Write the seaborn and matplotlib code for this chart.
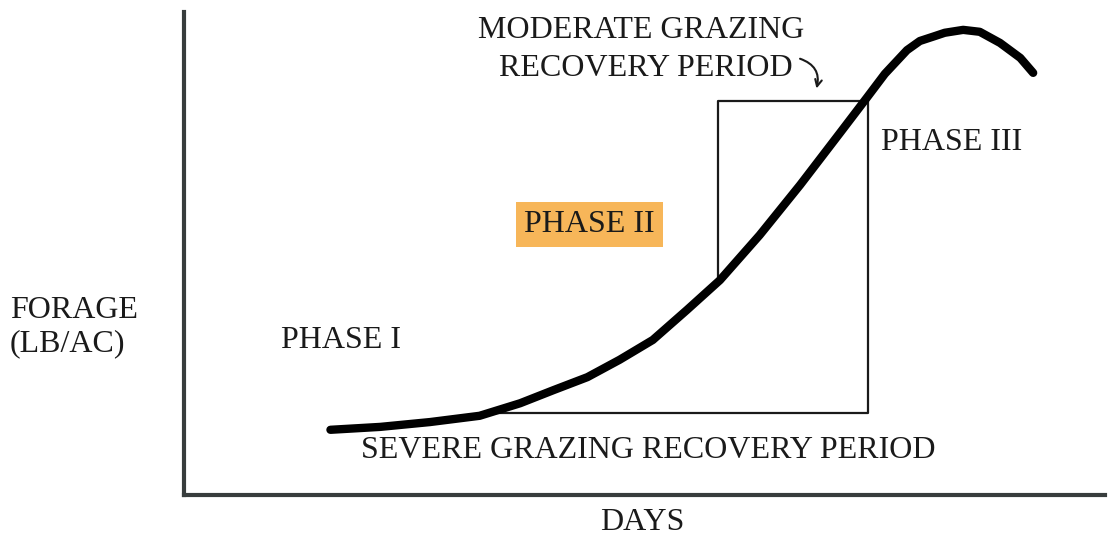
import matplotlib
matplotlib.use("Agg")
import matplotlib.pyplot as plt
import seaborn as sns
import pandas as pd

# forage growth curve (days and forage on a 0-100 relative scale)
curve_days = [15.9, 21.3, 26.7, 32.1, 36.5, 40.1, 43.8, 47.3, 50.9, 54.6,
              58.2, 62.5, 66.9, 71.2, 74.2, 76.1, 78.5, 79.9, 81.5, 82.6,
              84.6, 86.4, 88.6, 90.8, 92.2]
curve_forage = [13.5, 14.1, 15.1, 16.4, 19.0, 21.7, 24.4, 28.0, 32.1, 38.3,
                44.5, 53.8, 64.2, 74.9, 82.4, 87.2, 92.1, 94.0, 95.0, 95.7,
                96.3, 95.9, 93.6, 90.5, 87.4]

# recovery period boxes: severe (bottom + right side), moderate (top + left side)
box_days = [32.1, 74.3, 74.3, 58.0, 58.0]
box_forage = [17.0, 17.0, 81.6, 81.6, 44.5]

curve_df = pd.DataFrame({"days": curve_days, "forage": curve_forage})
box_df = pd.DataFrame({"days": box_days, "forage": box_forage})

sns.set_theme(style="white")
plt.rcParams["font.family"] = ["Liberation Serif", "DejaVu Serif"]

fig = plt.figure(figsize=(11.12, 5.37), dpi=100, facecolor="white")
ax = fig.add_axes([184 / 1112, 42 / 537, 921 / 1112, 483 / 537])

sns.lineplot(data=box_df, x="days", y="forage", sort=False, color="#1a1a1a",
             linewidth=1.6, ax=ax, estimator=None)
sns.lineplot(data=curve_df, x="days", y="forage", sort=False, color="black",
             linewidth=6, ax=ax, estimator=None, solid_capstyle="round",
             solid_joinstyle="round")

ax.set_xlim(0, 100)
ax.set_ylim(0, 100)
ax.set_xticks([])
ax.set_yticks([])
ax.set_xlabel("")
ax.set_ylabel("")
for side in ["top", "right"]:
    ax.spines[side].set_visible(False)
for side in ["left", "bottom"]:
    ax.spines[side].set_linewidth(3)
    ax.spines[side].set_color("#383d3d")

fs = 23
kw = dict(fontsize=fs, color="#1a1a1a", va="baseline", clip_on=False)
ax.text(49.6, 94.6, "MODERATE GRAZING", ha="center", **kw)
ax.text(50.1, 86.7, "RECOVERY PERIOD", ha="center", **kw)
ax.text(44.0, 54.5, "PHASE II", ha="center",
        bbox=dict(boxstyle="square,pad=0.25", facecolor="#f6a93c", edgecolor="none", alpha=0.85), **kw)
ax.text(83.3, 71.4, "PHASE III", ha="center", **kw)
ax.text(17.0, 30.4, "PHASE I", ha="center", **kw)
ax.text(50.4, 7.7, "SEVERE GRAZING RECOVERY PERIOD", ha="center", **kw)
ax.text(49.8, -7.3, "DAYS", ha="center", **kw)
ax.text(-18.9, 36.6, "FORAGE", ha="left", **kw)
ax.text(-18.9, 29.8, "(LB/AC)", ha="left", **kw)

ax.annotate("", xy=(68.6, 83.6), xytext=(66.6, 90.5),
            arrowprops=dict(arrowstyle="->", color="#1a1a1a", lw=1.5,
                            connectionstyle="arc3,rad=-0.5"))

fig.savefig("out.png", dpi=100, facecolor="white")
plt.close(fig)
